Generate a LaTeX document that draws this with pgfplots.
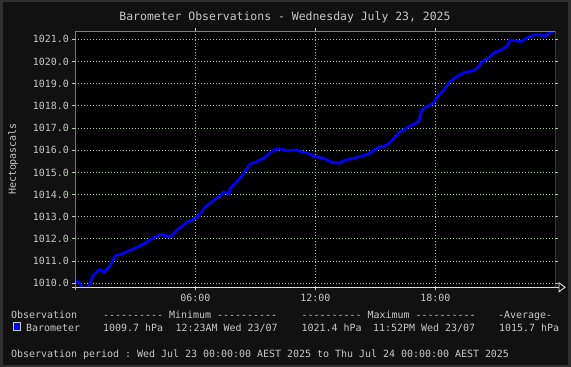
\documentclass[border=0pt]{standalone}
\usepackage{pgfplots}
\pgfplotsset{compat=1.18}
\usepackage{fontspec}
\setmonofont{DejaVu Sans Mono}
\renewcommand{\familydefault}{\ttdefault}
\definecolor{framecol}{HTML}{303030}
\definecolor{bgcol}{HTML}{111111}
\definecolor{txtcol}{HTML}{C8C8C8}
\definecolor{gridcol}{HTML}{A8D8A0}
\definecolor{leftcol}{HTML}{A0C878}
\definecolor{olivecol}{HTML}{888840}
\definecolor{baro}{HTML}{0000FF}
\begin{document}
\begin{tikzpicture}
\path[use as bounding box] (0,0) rectangle (571bp,-367bp);
\fill[framecol] (0,0) rectangle (571bp,-367bp);
\fill[bgcol] (3bp,-2bp) rectangle (568bp,-365bp);
\begin{axis}[
  at={(75.3bp,-287.3bp)}, anchor=south west,
  scale only axis, width=480bp, height=256.3bp,
  xmin=0, xmax=24, ymin=1009.82, ymax=1021.374,
  axis background/.style={fill=black},
  axis line style={draw=none},
  xtick={6,12,18}, xticklabels={06:00,12:00,18:00},
  ytick={1010,1011,...,1021},
  /pgf/number format/assume math mode=true,
  yticklabel={\pgfmathprintnumber[fixed,fixed zerofill,precision=1,1000 sep={},assume math mode=true]{\tick}},
  tick label style={color=txtcol, font=\fontsize{10}{12}\selectfont},
  tick align=outside,
  major tick length=3bp,
  tick style={draw=gridcol, line width=1bp},
  grid=major,
  major grid style={draw=gridcol, line width=1bp, dash pattern=on 1bp off 2bp},
]
\addplot[baro, line width=2.6bp, line join=round] coordinates {
(0.0,1010.1) (0.2,1010.05) (0.4,1009.7) (0.55,1009.7) (0.65,1009.85)
(0.85,1010.3) (1.0,1010.45) (1.2,1010.63) (1.45,1010.5) (1.75,1010.8)
(2.0,1011.25) (2.25,1011.3) (2.5,1011.4) (2.9,1011.55) (3.25,1011.7)
(3.65,1011.9) (3.9,1012.05) (4.25,1012.2) (4.75,1012.1) (5.08,1012.4)
(5.58,1012.75) (6.0,1012.93) (6.25,1013.16) (6.5,1013.43) (6.92,1013.76)
(7.25,1013.94) (7.42,1014.13) (7.67,1014.03) (7.75,1014.29) (8.08,1014.58)
(8.42,1014.96) (8.75,1015.38) (9.08,1015.49) (9.42,1015.64) (9.92,1016.02)
(10.25,1016.06) (10.58,1015.98) (11.08,1016.02) (11.25,1015.94) (11.58,1015.89)
(12.0,1015.71) (12.42,1015.64) (12.75,1015.49) (13.17,1015.41) (13.5,1015.56)
(13.92,1015.64) (14.33,1015.74) (14.75,1015.87) (15.08,1016.09) (15.58,1016.24)
(15.92,1016.54) (16.25,1016.84) (16.75,1017.1) (17.17,1017.29) (17.33,1017.82)
(17.58,1017.97) (17.92,1018.12) (18.08,1018.39) (18.42,1018.72) (18.75,1019.1)
(19.08,1019.32) (19.42,1019.5) (19.92,1019.59) (20.17,1019.77) (20.33,1020.0)
(20.67,1020.15) (20.92,1020.38) (21.25,1020.5) (21.58,1020.68) (21.75,1020.98)
(22.25,1020.9) (22.58,1021.06) (22.92,1021.2) (23.25,1021.2) (23.5,1021.16)
(23.75,1021.31) (24.0,1021.4)
};
\draw[leftcol, line width=1bp] (rel axis cs:0,0) -- (rel axis cs:0,1);
\draw[olivecol, line width=1bp] (rel axis cs:0,1) -- (rel axis cs:1,1) -- (rel axis cs:1,0);
\end{axis}
\begin{scope}[x=1bp,y=-1bp]
\draw[white!88!black, line width=1bp] (72,287.3) -- (559,287.3);
\draw[white!88!black, line width=0.9bp] (559,282.8) -- (565,287.3) -- (559,291.8) -- cycle;
\draw[leftcol, line width=1bp] (75.3,287.3) -- (75.3,289.5);
\node[txtcol, font=\fontsize{11.5}{13}\selectfont, anchor=base, inner sep=0] at (285,20.5) {Barometer Observations - Wednesday July 23, 2025};
\node[txtcol, font=\fontsize{10}{12}\selectfont, rotate=90, anchor=center, inner sep=0] at (13,159) {Hectopascals};
\begin{scope}[every node/.style={txtcol, font=\fontsize{10}{12}\selectfont, anchor=base west, inner sep=0}]
\node at (11,318) {Observation};
\node at (103,318) {---------- Minimum ----------};
\node at (301.5,318) {---------- Maximum ----------};
\node at (498,318) {-Average-};
\node at (26,331) {Barometer};
\node at (103,331) {1009.7 hPa};
\node at (175.5,331) {12:23AM Wed 23/07};
\node at (301.5,331) {1021.4 hPa};
\node at (373,331) {11:52PM Wed 23/07};
\node at (499,331) {1015.7 hPa};
\node at (11,357) {Observation period : Wed Jul 23 00:00:00 AEST 2025 to Thu Jul 24 00:00:00 AEST 2025};
\end{scope}
\draw[fill=baro, draw=txtcol, line width=0.8bp] (13.5,322.5) rectangle (20.5,330);
\end{scope}
\end{tikzpicture}
\end{document}
